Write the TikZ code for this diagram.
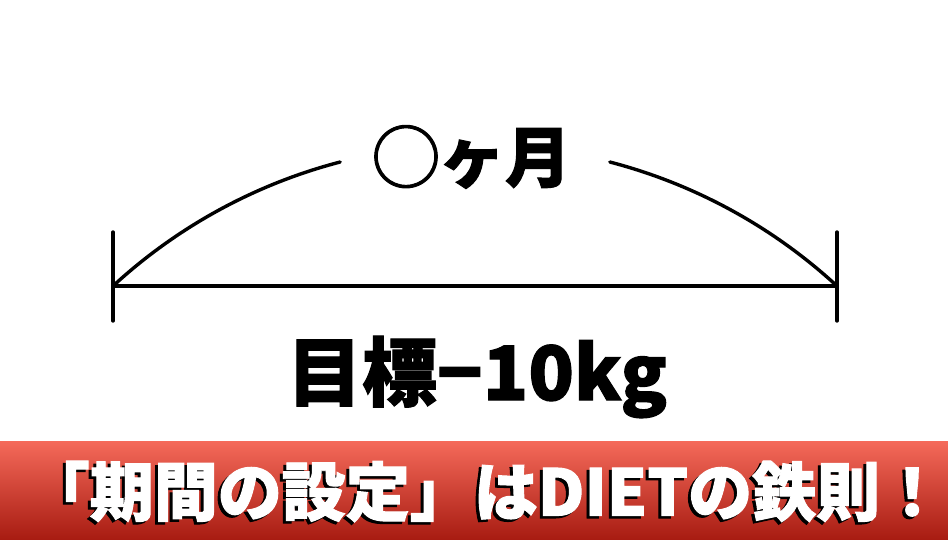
\documentclass[tikz,border=0pt]{standalone}
\usepackage{fontspec}
\newfontfamily\jp[BoldFeatures={FakeBold=1.5}]{Noto Sans CJK JP}
\definecolor{bantop}{HTML}{F56A5A}
\definecolor{banbot}{HTML}{A81C12}
\begin{document}
\begin{tikzpicture}[x=1pt,y=-1pt,
  stroke/.style={line width=3.4pt, line cap=round, draw=black},
  bigtext/.style={font=\jp\bfseries\fontsize{66}{66}\selectfont, inner sep=0pt},
  bantext/.style={font=\jp\bfseries\fontsize{64}{64}\selectfont, inner sep=0pt}]
\useasboundingbox (0,0) rectangle (948,539);
\fill[white] (0,0) rectangle (948,539);
\shade[top color=bantop, bottom color=banbot] (0,441) rectangle (948,539);
\coordinate (L) at (113,286);
\coordinate (R) at (837,286);
\coordinate (Lt) at (113,232);
\coordinate (Lb) at (113,321);
\coordinate (Rt) at (837,232);
\coordinate (Rb) at (837,321);
\draw[stroke] (Lt) -- (Lb);
\draw[stroke] (Rt) -- (Rb);
\draw[stroke] (L) -- (R);
\draw[stroke] (L) arc[start angle=-132.65, end angle=-104.6, radius=534];
\draw[stroke] (R) arc[start angle=-47.35, end angle=-75.4, radius=534];
\node[bigtext] (m) at (472,157) {◯ヶ月};
\node[bigtext, font=\jp\bfseries\fontsize{75}{75}\selectfont] (g) at (477,377) {目標−10kg};
\node[bantext, text=black] (bs) at (482,494) {「期間の設定」はDIETの鉄則！};
\node[bantext, text=white] (b) at (485,491.5) {「期間の設定」はDIETの鉄則！};
\end{tikzpicture}
\end{document}
